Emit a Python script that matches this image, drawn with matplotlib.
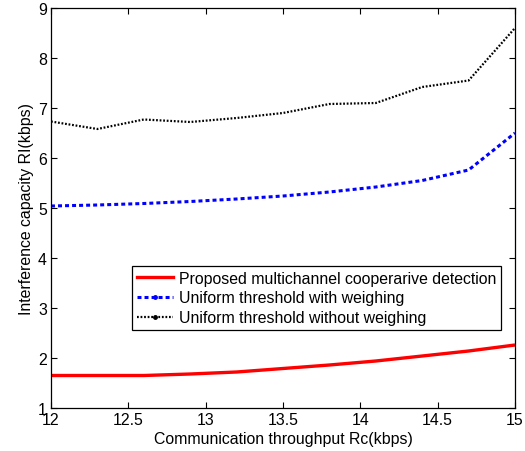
import matplotlib
matplotlib.use("Agg")
import matplotlib.pyplot as plt
from matplotlib.lines import Line2D

plt.rcParams['font.family'] = ['Liberation Sans', 'DejaVu Sans']

rc = [12.0, 12.3, 12.6, 12.9, 13.2, 13.5, 13.8, 14.1, 14.4, 14.7, 15.0]
proposed = [1.65, 1.65, 1.65, 1.68, 1.72, 1.79, 1.86, 1.94, 2.04, 2.14, 2.26]
with_weigh = [5.04, 5.06, 5.09, 5.13, 5.18, 5.24, 5.32, 5.42, 5.55, 5.76, 6.5]
without_weigh = [6.73, 6.58, 6.77, 6.72, 6.80, 6.90, 7.08, 7.10, 7.42, 7.55, 8.6]
labels = ['Proposed multichannel cooperarive detection',
          'Uniform threshold with weighing',
          'Uniform threshold without weighing']
xticks = [12, 12.5, 13, 13.5, 14, 14.5, 15]
yticks = [1, 2, 3, 4, 5, 6, 7, 8, 9]

fig = plt.figure(figsize=(5.25, 4.52), dpi=100)
ax = fig.add_axes([51/525, 43/452, 464/525, 400/452])

blk_style = (0, (0.8, 0.8))
blue_style = (0, (1.3, 1.0))

ax.plot(rc, proposed, color='#ff0000', lw=2.4, solid_capstyle='butt')
ax.plot(rc, with_weigh, color='#0000ff', lw=2.2, linestyle=blue_style)
ax.plot(rc, without_weigh, color='black', lw=1.6, linestyle=blk_style)

ax.set_xlim(12, 15)
ax.set_ylim(1, 9)
ax.set_xticks(xticks)
ax.set_xticklabels([f'{t:g}' for t in xticks])
ax.set_yticks(yticks)
ax.tick_params(direction='in', top=True, right=True, length=4, width=0.8,
               labelsize=11.4, pad=3)
for s in ax.spines.values():
    s.set_linewidth(0.9)

ax.set_xlabel('Communication throughput Rc(kbps)', fontsize=11.4, labelpad=3)
ax.set_ylabel('Interference capacity RI(kbps)', fontsize=11.4, labelpad=3)

handles = [
    Line2D([], [], color='#ff0000', lw=2.4),
    Line2D([], [], color='#0000ff', lw=2.2, linestyle=blue_style, marker='.', markersize=5),
    Line2D([], [], color='black', lw=1.6, linestyle=blk_style, marker='.', markersize=5),
]
leg = ax.legend(handles, labels, loc='upper left', bbox_to_anchor=(0.175, 0.355),
                borderaxespad=0, fontsize=11.4, handlelength=2.3, handletextpad=0.35,
                labelspacing=0.3, borderpad=0.3, fancybox=False, framealpha=1,
                edgecolor='black')
leg.get_frame().set_linewidth(0.9)

fig.savefig('out.png', dpi=100)
